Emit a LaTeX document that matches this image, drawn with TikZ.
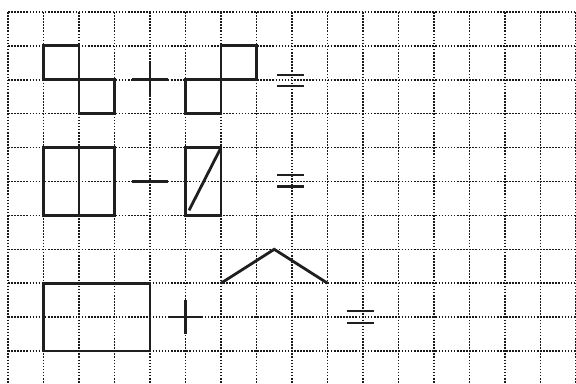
\documentclass[tikz,border=0pt]{standalone}
\usepackage{tikz}
\usetikzlibrary{calc}
\tikzset{
  gridline/.style={line width=0.9pt, black!90, dash pattern=on 0.9pt off 0.85pt},
  figline/.style={line width=1.6pt, black!88, line join=miter},
  signline/.style={line width=1.5pt, black!88},
}

\begin{document}
\begin{tikzpicture}[x=0.71cm, y=0.678cm]
  \useasboundingbox (-0.225,0.354) rectangle (16,-10.973);
  % dotted squared paper
  \foreach \i in {0,...,16} {
    \draw[gridline] (\i,0) -- (\i,-11);
  }
  \foreach \j in {0,...,11} {
    \draw[gridline] (0,-\j) -- (16,-\j);
  }
  % first row: squares + squares =
  \draw[figline] (1,-1) rectangle (2,-2);
  \draw[figline] (2,-2) rectangle (3,-3);
  \draw[signline] (3.5,-2) -- (4.5,-2) (4,-1.5) -- (4,-2.5);
  \draw[figline] (5,-2) rectangle (6,-3);
  \draw[figline] (6,-1) rectangle (7,-2);
  \draw[signline] (7.58,-1.86) -- (8.34,-1.86) (7.58,-2.18) -- (8.34,-2.18);
  % second row: rectangles - split rectangle =
  \draw[figline] (1,-4) rectangle (3,-6);
  \draw[figline] (2,-4) -- (2,-6);
  \draw[signline] (3.5,-5) -- (4.5,-5);
  \draw[figline] (5,-4) rectangle (6,-6);
  \draw[figline] (5.1,-5.85) -- (6,-4);
  \draw[signline] (7.58,-4.81) -- (8.34,-4.81) (7.58,-5.15) -- (8.34,-5.15);
  % third row: rectangle + roof =
  \draw[figline] (1,-8) rectangle (4,-10);
  \draw[signline] (4.5,-9) -- (5.5,-9) (5,-8.5) -- (5,-9.5);
  \draw[figline] (6,-8) -- (7.5,-7) -- (9,-8);
  \draw[signline] (9.54,-8.82) -- (10.31,-8.82) (9.54,-9.17) -- (10.31,-9.17);
\end{tikzpicture}
\end{document}
